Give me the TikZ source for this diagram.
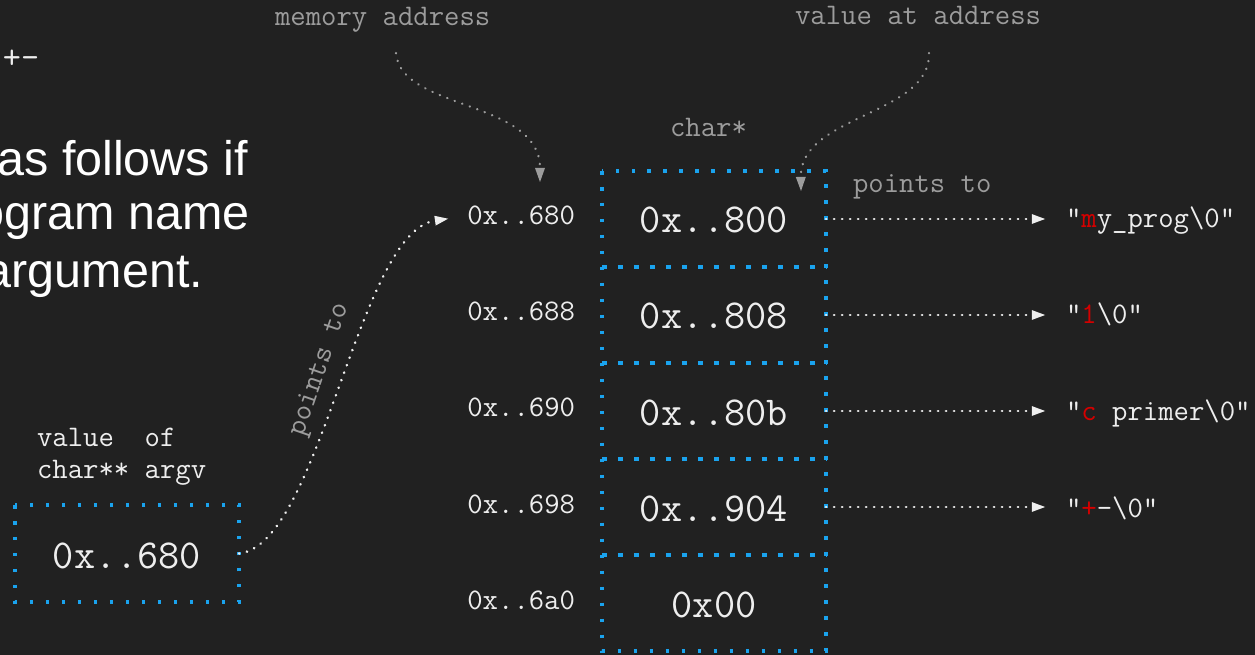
\documentclass[tikz,border=0pt]{standalone}
\usepackage{fontspec}
\newfontfamily\bigsans{Liberation Sans}
\usetikzlibrary{arrows.meta}
\definecolor{bg}{HTML}{212121}
\definecolor{fg}{HTML}{EEEEEE}
\definecolor{lab}{HTML}{9C9C9C}
\definecolor{cblue}{HTML}{1AA3EE}
\definecolor{cred}{HTML}{D40000}
\begin{document}
\begin{tikzpicture}[x=0.02cm,y=-0.02cm,
  every node/.style={inner sep=0pt, outer sep=0pt},
  mono/.style={font=\fontsize{17}{20}\selectfont\ttfamily},
  addr/.style={mono, text=fg, anchor=base east},
  val/.style={font=\fontsize{23.4}{28}\selectfont\ttfamily, text=fg, anchor=base},
  rowbox/.style={minimum width=224*0.02cm, minimum height=96*0.02cm},
  glabel/.style={mono, text=lab, anchor=base west},
  str/.style={mono, text=fg, anchor=base west},
  bigtext/.style={font=\bigsans\fontsize{27.6}{32}\selectfont, text=white, anchor=base east},
  bluedot/.style={draw=cblue, line width=2pt, dash pattern=on 2pt off 7.1pt},
  bluedash/.style={draw=cblue, line width=2pt, dash pattern=on 3pt off 6.1pt},
  wdot/.style={draw=fg, line width=1.45pt, line cap=round, dash pattern=on 0.2pt off 4.35pt,
    -{Triangle[length=7.5pt,width=5.6pt,fill=fg,line width=0pt]}},
  gdot/.style={draw=lab, line width=1.3pt, line cap=round, dash pattern=on 0.2pt off 4.35pt,
    -{Triangle[length=8pt,width=5.7pt,fill=lab,line width=0pt]}}
]
\fill[bg] (0,0) rectangle (1255,655);
\useasboundingbox (0,0) rectangle (1255,655);

% left-hand text (cut at the edge)
\node[mono, text=fg, anchor=base west, font=\fontsize{20}{24}\selectfont\ttfamily] (pm) at (3,69) {+-};
\node[bigtext] (t1) at (248,176) {as follows if};
\node[bigtext] (t2) at (250,230) {ogram name};
\node[bigtext] (t3) at (203,288) {argument.};

% top labels
\node[glabel] (ml) at (275,26) {memory address};
\node[glabel] (vl) at (795,25) {value at address};
\node[glabel] (cl) at (670,137) {char*};
\node[glabel] (pl) at (853,193) {points to};

% table rows
\foreach \i/\v/\a in {1/0x..800/0x..680, 2/0x..808/0x..688, 3/0x..80b/0x..690, 4/0x..904/0x..698, 5/0x00/0x..6a0}{
  \pgfmathsetmacro{\c}{219+96*(\i-1)}
  \node[rowbox] (r\i) at (714,\c) {};
  \node[val] (v\i) at (714,\c+14) {\v};
  \node[addr] (a\i) at (575,\c+6) {\a};
}
\draw[bluedot] (r1.north west) rectangle (r5.south east);
\foreach \i in {1,...,4}{
  \draw[bluedash] (r\i.south west) -- (r\i.south east);
}

% strings
\node[str] (s1) at (1066,228) {"{\color{cred}m}y\_prog\textbackslash 0"};
\node[str] (s2) at (1066,324) {"{\color{cred}1}\textbackslash 0"};
\node[str] (s3) at (1066,420) {"{\color{cred}c} primer\textbackslash 0"};
\node[str] (s4) at (1066,517) {"{\color{cred}+}-\textbackslash 0"};

\foreach \i in {1,...,4}{
  \draw[wdot, shorten >=11.9pt] (r\i.east) -- (r\i.east -| s\i.west);
}

% argv box
\node[mono, text=fg, anchor=base west] (lv1) at (37,446) {value\ \ of};
\node[mono, text=fg, anchor=base west] (lv2) at (37,478) {char** argv};
\node[rowbox, minimum height=97*0.02cm] (sb) at (127,553.5) {};
\node[val] (sbv) at (127,568) {0x..680};
\draw[bluedot] (sb.north west) rectangle (sb.south east);

\draw[wdot, shorten >=11.1pt] (sb.east) .. controls (320,545) and (358,232) .. (a1.west);
\node[mono, text=lab, rotate=71] (pt) at (320,370) {points to};

% grey annotation curves
\coordinate (ma0) at (396,53);
\coordinate (ma1) at (540,182);
\draw[gdot] (ma0) .. controls (400,110) and (540,100) .. (ma1);
\coordinate (va0) at (929,53);
\coordinate (va1) at (801,191);
\draw[gdot] (va0) .. controls (931,115) and (800,115) .. (va1);
\end{tikzpicture}
\end{document}
